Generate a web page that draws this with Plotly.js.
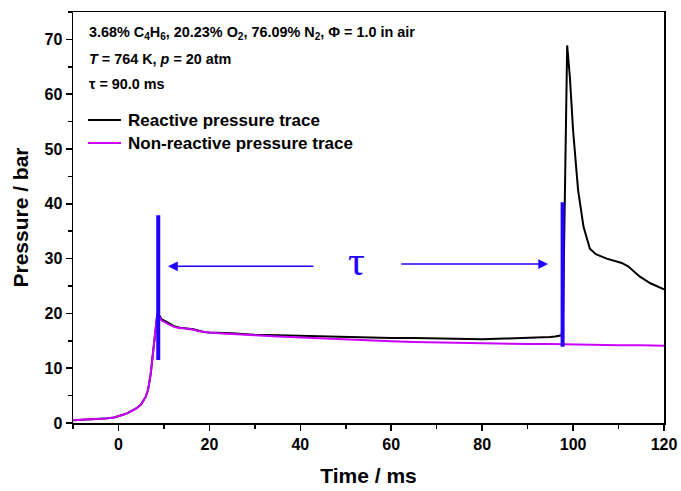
<!DOCTYPE html>
<html>
<head>
<meta charset="utf-8">
<script src="https://cdn.plot.ly/plotly-3.0.1.min.js"></script>
<style>html,body{margin:0;padding:0;background:#fff;}#chart{width:681px;height:491px;}</style>
</head>
<body>
<div id="chart"></div>
<script>
// Reactive pressure trace (time ms, pressure bar)
const reactiveTime = [-10,-7,-5,-3,-1,0,1,2,3,4,5,5.5,6,6.5,6.8,7.1,7.4,7.7,8.0,8.3,8.5,8.75,9.1,9.5,10.5,11.5,12.4,13.5,14.5,15.5,16.5,17.5,18.7,20,22,25,28,30,35,40,45,50,55,60,65,70,75,80,85,90,93,95,96,97,97.5,97.8,98.1,98.4,98.7,99.3,100,101.1,102.3,103.7,105,107.4,110.7,112.1,114.7,117,120];
const reactivePressure = [0.5,0.6,0.7,0.8,1.0,1.2,1.5,1.8,2.2,2.7,3.4,4.0,4.8,6.0,7.3,9.0,11.3,13.8,16.3,18.6,19.6,20.0,19.4,18.9,18.5,18.0,17.6,17.4,17.3,17.3,17.1,16.9,16.6,16.5,16.5,16.4,16.2,16.1,16.0,15.9,15.8,15.6,15.6,15.5,15.5,15.4,15.4,15.3,15.4,15.5,15.6,15.7,15.8,15.9,16.0,20,35,55,68.9,63.1,53.4,42.5,35.8,31.8,30.8,30.0,29.2,28.6,26.7,25.5,24.4];
// Non-reactive pressure trace
const nonReactiveTime = [-10,-7,-5,-3,-1,0,1,2,3,4,5,5.5,6,6.5,6.8,7.1,7.4,7.7,8.0,8.3,8.5,8.75,9.1,9.5,10.5,11.5,12.4,13.5,14.5,15.5,16.5,17.5,18.7,20,22,25,28,30,35,40,45,50,55,60,65,70,75,80,85,90,95,100,105,110,115,120];
const nonReactivePressure = [0.5,0.6,0.7,0.8,1.0,1.2,1.5,1.8,2.2,2.7,3.4,4.0,4.8,6.0,7.3,9.0,11.3,13.8,16.3,18.6,19.6,20.0,19.2,18.7,18.2,17.8,17.5,17.3,17.3,17.2,17.0,16.8,16.6,16.5,16.4,16.3,16.1,16.0,15.8,15.6,15.4,15.2,15.1,14.9,14.8,14.7,14.6,14.5,14.5,14.4,14.4,14.3,14.3,14.2,14.2,14.1];
// Ignition delay markers
const markerTimes = [8.75, 97.7];
const markerLow = [11.5, 13.9];
const markerHigh = [37.9, 40.3];
const seriesNames = ['Reactive pressure trace', 'Non-reactive pressure trace'];
const seriesColors = ['#000000', '#cc00ff'];
const infoLines = ['3.68% C<sub>4</sub>H<sub>6</sub>, 20.23% O<sub>2</sub>, 76.09% N<sub>2</sub>, Φ = 1.0 in air',
                   '<i>T</i> = 764 K, <i>p</i> = 20 atm',
                   'τ = 90.0 ms'];

const FONT = 'Liberation Sans, Arial, sans-serif';
const BLUE = '#2200ff';
const TXT = {family: FONT, size: 14.4, color: '#000', weight: 'bold'};
const LEG = {family: FONT, size: 17, color: '#000', weight: 'bold'};

const traces = [
  {x: reactiveTime, y: reactivePressure, type: 'scatter', mode: 'lines', name: seriesNames[0],
   line: {color: seriesColors[0], width: 2}},
  {x: nonReactiveTime, y: nonReactivePressure, type: 'scatter', mode: 'lines', name: seriesNames[1],
   line: {color: seriesColors[1], width: 2}}
];

const shapes = markerTimes.map((t, i) => ({
  type: 'line', xref: 'x', yref: 'y', x0: t, x1: t, y0: markerLow[i], y1: markerHigh[i],
  line: {color: BLUE, width: 4}
}));
// manual legend samples
const legendY = [0.737, 0.681];
seriesNames.forEach((n, i) => {
  shapes.push({type: 'line', xref: 'paper', yref: 'paper', x0: 0.0254, x1: 0.0812, y0: legendY[i], y1: legendY[i],
               line: {color: seriesColors[i], width: 2}});
});

const annotations = [
  {xref: 'paper', yref: 'paper', x: 0.024, y: 0.949, xanchor: 'left', yanchor: 'middle', text: infoLines[0], showarrow: false, font: TXT},
  {xref: 'paper', yref: 'paper', x: 0.024, y: 0.886, xanchor: 'left', yanchor: 'middle', text: infoLines[1], showarrow: false, font: TXT},
  {xref: 'paper', yref: 'paper', x: 0.024, y: 0.825, xanchor: 'left', yanchor: 'middle', text: infoLines[2], showarrow: false, font: TXT},
  {xref: 'x', yref: 'y', axref: 'x', ayref: 'y', x: 10.9, y: 28.6, ax: 43.2, ay: 28.6, text: '', showarrow: true, arrowhead: 2, arrowsize: 1.3, arrowwidth: 1.5, arrowcolor: BLUE},
  {xref: 'x', yref: 'y', axref: 'x', ayref: 'y', x: 94.5, y: 29.0, ax: 61.9, ay: 29.0, text: '', showarrow: true, arrowhead: 2, arrowsize: 1.3, arrowwidth: 1.5, arrowcolor: BLUE},
  {xref: 'x', yref: 'y', x: 52.4, y: 29.6, text: 'τ', showarrow: false, xanchor: 'center', yanchor: 'middle', font: {family: 'Liberation Serif, Times New Roman, serif', size: 42, color: BLUE}}
];
seriesNames.forEach((n, i) => {
  annotations.push({xref: 'paper', yref: 'paper', x: 0.0905, y: legendY[i], xanchor: 'left', yanchor: 'middle', text: n, showarrow: false, font: LEG});
});

const axisCommon = {
  showline: true, linecolor: '#000', linewidth: 1.5, mirror: true,
  ticks: 'outside', ticklen: 6, tickwidth: 1.5, tickcolor: '#000',
  showgrid: false, zeroline: false,
  tickfont: {family: FONT, size: 16, color: '#000', weight: 'bold'}
};

const layout = {
  width: 681, height: 491,
  margin: {l: 73, r: 17, t: 12, b: 68},
  paper_bgcolor: '#fff', plot_bgcolor: '#fff',
  font: {family: FONT, color: '#000'},
  showlegend: false,
  xaxis: Object.assign({}, axisCommon, {
    range: [-10, 120], tickmode: 'array', tickvals: [0, 20, 40, 60, 80, 100, 120],
    minor: {tickvals: [-10, 10, 30, 50, 70, 90, 110], ticks: 'outside', ticklen: 4, tickwidth: 1.5, tickcolor: '#000'},
    title: {text: 'Time / ms', font: {family: FONT, size: 21, color: '#000', weight: 'bold'}, standoff: 16}
  }),
  yaxis: Object.assign({}, axisCommon, {
    range: [0, 75], tickmode: 'array', tickvals: [0, 10, 20, 30, 40, 50, 60, 70],
    minor: {tickvals: [5, 15, 25, 35, 45, 55, 65, 75], ticks: 'outside', ticklen: 4, tickwidth: 1.5, tickcolor: '#000'},
    title: {text: 'Pressure / bar', font: {family: FONT, size: 21, color: '#000', weight: 'bold'}, standoff: 10}
  }),
  shapes: shapes,
  annotations: annotations
};

Plotly.newPlot('chart', traces, layout, {displayModeBar: false, staticPlot: true});
</script>
</body>
</html>
